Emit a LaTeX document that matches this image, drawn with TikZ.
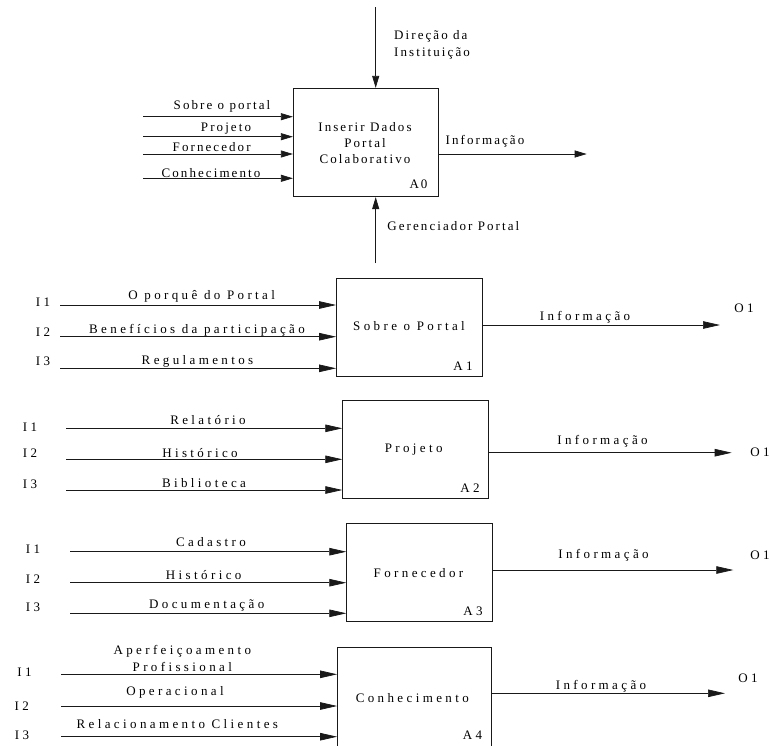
\documentclass[tikz,border=0pt]{standalone}
\usepackage{fontspec}
\setmainfont{Liberation Serif}
\newfontfamily\topfont[LetterSpace=16]{Liberation Serif}
\newfontfamily\lowfont[LetterSpace=26]{Liberation Serif}
\usetikzlibrary{arrows.meta}
\begin{document}
\begin{tikzpicture}[x=1pt,y=-1pt,
  abox/.style={draw=black!90, line width=0.8pt, inner sep=0pt},
  ttxt/.style={font=\topfont\fontsize{13}{16.3}\selectfont, inner sep=0pt, align=center},
  ltxt/.style={font=\lowfont\fontsize{13}{16.7}\selectfont, inner sep=0pt, align=center},
  arrA/.style={draw=black!90, line width=0.7pt, -{Triangle[length=12pt,width=7pt]}},
  arrB/.style={draw=black!90, line width=0.7pt, -{Triangle[length=17pt,width=7.5pt]}}]
\clip (0,0) rectangle (770,745);
\fill[white] (0,0) rectangle (770,745);

% ---------- A0 ----------
\node[abox, minimum width=145pt, minimum height=108.4pt] (a0) at (365.8,142.5) {};
\node[ttxt] (a0t) at (365,143) {Inserir Dados\\Portal\\Colaborativo};
\node[ttxt] (a0n) at (418.5,184.3) {A0};
\coordinate (dtop) at (375.7,7);
\coordinate (gbot) at (375.7,263);
\draw[arrA] (dtop) -- (dtop |- a0.north);
\draw[arrA] (gbot) -- (gbot |- a0.south);
\node[ttxt, anchor=west, align=left] (dir) at (394,45) {Direção da\\Instituição};
\node[ttxt] (ger) at (453.3,226) {Gerenciador Portal};
\coordinate (a0i1) at (143.3,116.7);
\coordinate (a0i2) at (143.3,136.7);
\coordinate (a0i3) at (143.3,154);
\coordinate (a0i4) at (143.3,178.3);
\draw[arrA] (a0i1) -- (a0i1 -| a0.west);
\draw[arrA] (a0i2) -- (a0i2 -| a0.west);
\draw[arrA] (a0i3) -- (a0i3 -| a0.west);
\draw[arrA] (a0i4) -- (a0i4 -| a0.west);
\node[ttxt] (a0l1) at (222,106.7) {Sobre o portal};
\node[ttxt] (a0l2) at (226,129) {Projeto};
\node[ttxt] (a0l3) at (211.7,146.7) {Fornecedor};
\node[ttxt] (a0l4) at (211,172.7) {Conhecimento};
\coordinate (a0o) at (586.7,154);
\draw[arrA] (a0.east |- a0o) -- (a0o);
\node[ttxt] (a0ol) at (485,141.7) {Informação};

% ---------- A1 ----------
\node[abox, minimum width=145.8pt, minimum height=97.7pt] (a1) at (409.4,327.2) {};
\node[ltxt] (a1t) at (409,326) {Sobre o Portal};
\node[ltxt] (a1n) at (463,366) {A1};
\node[ltxt] (a1I1) at (43,302.7) {I1};
\node[ltxt] (a1I2) at (43,331.7) {I2};
\node[ltxt] (a1I3) at (43,361.7) {I3};
\coordinate (a1i1) at (60,305);
\coordinate (a1i2) at (60,336.7);
\coordinate (a1i3) at (60,368.3);
\draw[arrB] (a1i1) -- (a1i1 -| a1.west);
\draw[arrB] (a1i2) -- (a1i2 -| a1.west);
\draw[arrB] (a1i3) -- (a1i3 -| a1.west);
\node[ltxt] (a1l1) at (201.7,296) {O porquê do Portal};
\node[ltxt] (a1l2) at (197,330) {Benefícios da participação};
\node[ltxt] (a1l3) at (197.5,361) {Regulamentos};
\coordinate (a1o) at (720,325);
\draw[arrB] (a1.east |- a1o) -- (a1o);
\node[ltxt] (a1ol) at (585,317.7) {Informação};
\node[ltxt] (a1O) at (744,308) {O1};

% ---------- A2 ----------
\node[abox, minimum width=145.6pt, minimum height=97.6pt] (a2) at (415.5,449.5) {};
\node[ltxt] (a2t) at (413.7,450) {Projeto};
\node[ltxt] (a2n) at (470,488) {A2};
\node[ltxt] (a2I1) at (30,426.7) {I1};
\node[ltxt] (a2I2) at (30,453) {I2};
\node[ltxt] (a2I3) at (30,484) {I3};
\coordinate (a2i1) at (66,428.3);
\coordinate (a2i2) at (66,459.3);
\coordinate (a2i3) at (66,490);
\draw[arrB] (a2i1) -- (a2i1 -| a2.west);
\draw[arrB] (a2i2) -- (a2i2 -| a2.west);
\draw[arrB] (a2i3) -- (a2i3 -| a2.west);
\node[ltxt] (a2l1) at (208,420) {Relatório};
\node[ltxt] (a2l2) at (200,452.7) {Histórico};
\node[ltxt] (a2l3) at (204,483) {Biblioteca};
\coordinate (a2o) at (731.7,452.7);
\draw[arrB] (a2.east |- a2o) -- (a2o);
\node[ltxt] (a2ol) at (602.5,441.7) {Informação};
\node[ltxt] (a2O) at (760,452.7) {O1};

% ---------- A3 ----------
\node[abox, minimum width=145.6pt, minimum height=98.4pt] (a3) at (419.5,572.5) {};
\node[ltxt] (a3t) at (418.5,572.7) {Fornecedor};
\node[ltxt] (a3n) at (473,611) {A3};
\node[ltxt] (a3I1) at (33,549.3) {I1};
\node[ltxt] (a3I2) at (33,579) {I2};
\node[ltxt] (a3I3) at (33,607.7) {I3};
\coordinate (a3i1) at (70,551.7);
\coordinate (a3i2) at (70,582.7);
\coordinate (a3i3) at (70,613.3);
\draw[arrB] (a3i1) -- (a3i1 -| a3.west);
\draw[arrB] (a3i2) -- (a3i2 -| a3.west);
\draw[arrB] (a3i3) -- (a3i3 -| a3.west);
\node[ltxt] (a3l1) at (211,542.3) {Cadastro};
\node[ltxt] (a3l2) at (203.7,575) {Histórico};
\node[ltxt] (a3l3) at (206.7,605.7) {Documentação};
\coordinate (a3o) at (733.3,570);
\draw[arrB] (a3.east |- a3o) -- (a3o);
\node[ltxt] (a3ol) at (603.5,555) {Informação};
\node[ltxt] (a3O) at (760,555) {O1};

% ---------- A4 ----------
\node[abox, minimum width=154.2pt, minimum height=100pt] (a4) at (414.6,697.7) {};
\node[ltxt] (a4t) at (412.3,697.7) {Conhecimento};
\node[ltxt] (a4n) at (472.5,735) {A4};
\node[ltxt] (a4I1) at (24.5,671.7) {I1};
\node[ltxt] (a4I2) at (21.7,706) {I2};
\node[ltxt] (a4I3) at (22,735) {I3};
\coordinate (a4i1) at (61,674.3);
\coordinate (a4i2) at (61,706);
\coordinate (a4i3) at (61,736.7);
\draw[arrB] (a4i1) -- (a4i1 -| a4.west);
\draw[arrB] (a4i2) -- (a4i2 -| a4.west);
\draw[arrB] (a4i3) -- (a4i3 -| a4.west);
\node[ltxt] (a4l1) at (182.3,658.3) {Aperfeiçoamento\\Profissional};
\node[ltxt] (a4l2) at (175,692.7) {Operacional};
\node[ltxt] (a4l3) at (177.3,724) {Relacionamento Clientes};
\coordinate (a4o) at (725,693.3);
\draw[arrB] (a4.east |- a4o) -- (a4o);
\node[ltxt] (a4ol) at (601,686) {Informação};
\node[ltxt] (a4O) at (748,678.3) {O1};
\end{tikzpicture}
\end{document}
